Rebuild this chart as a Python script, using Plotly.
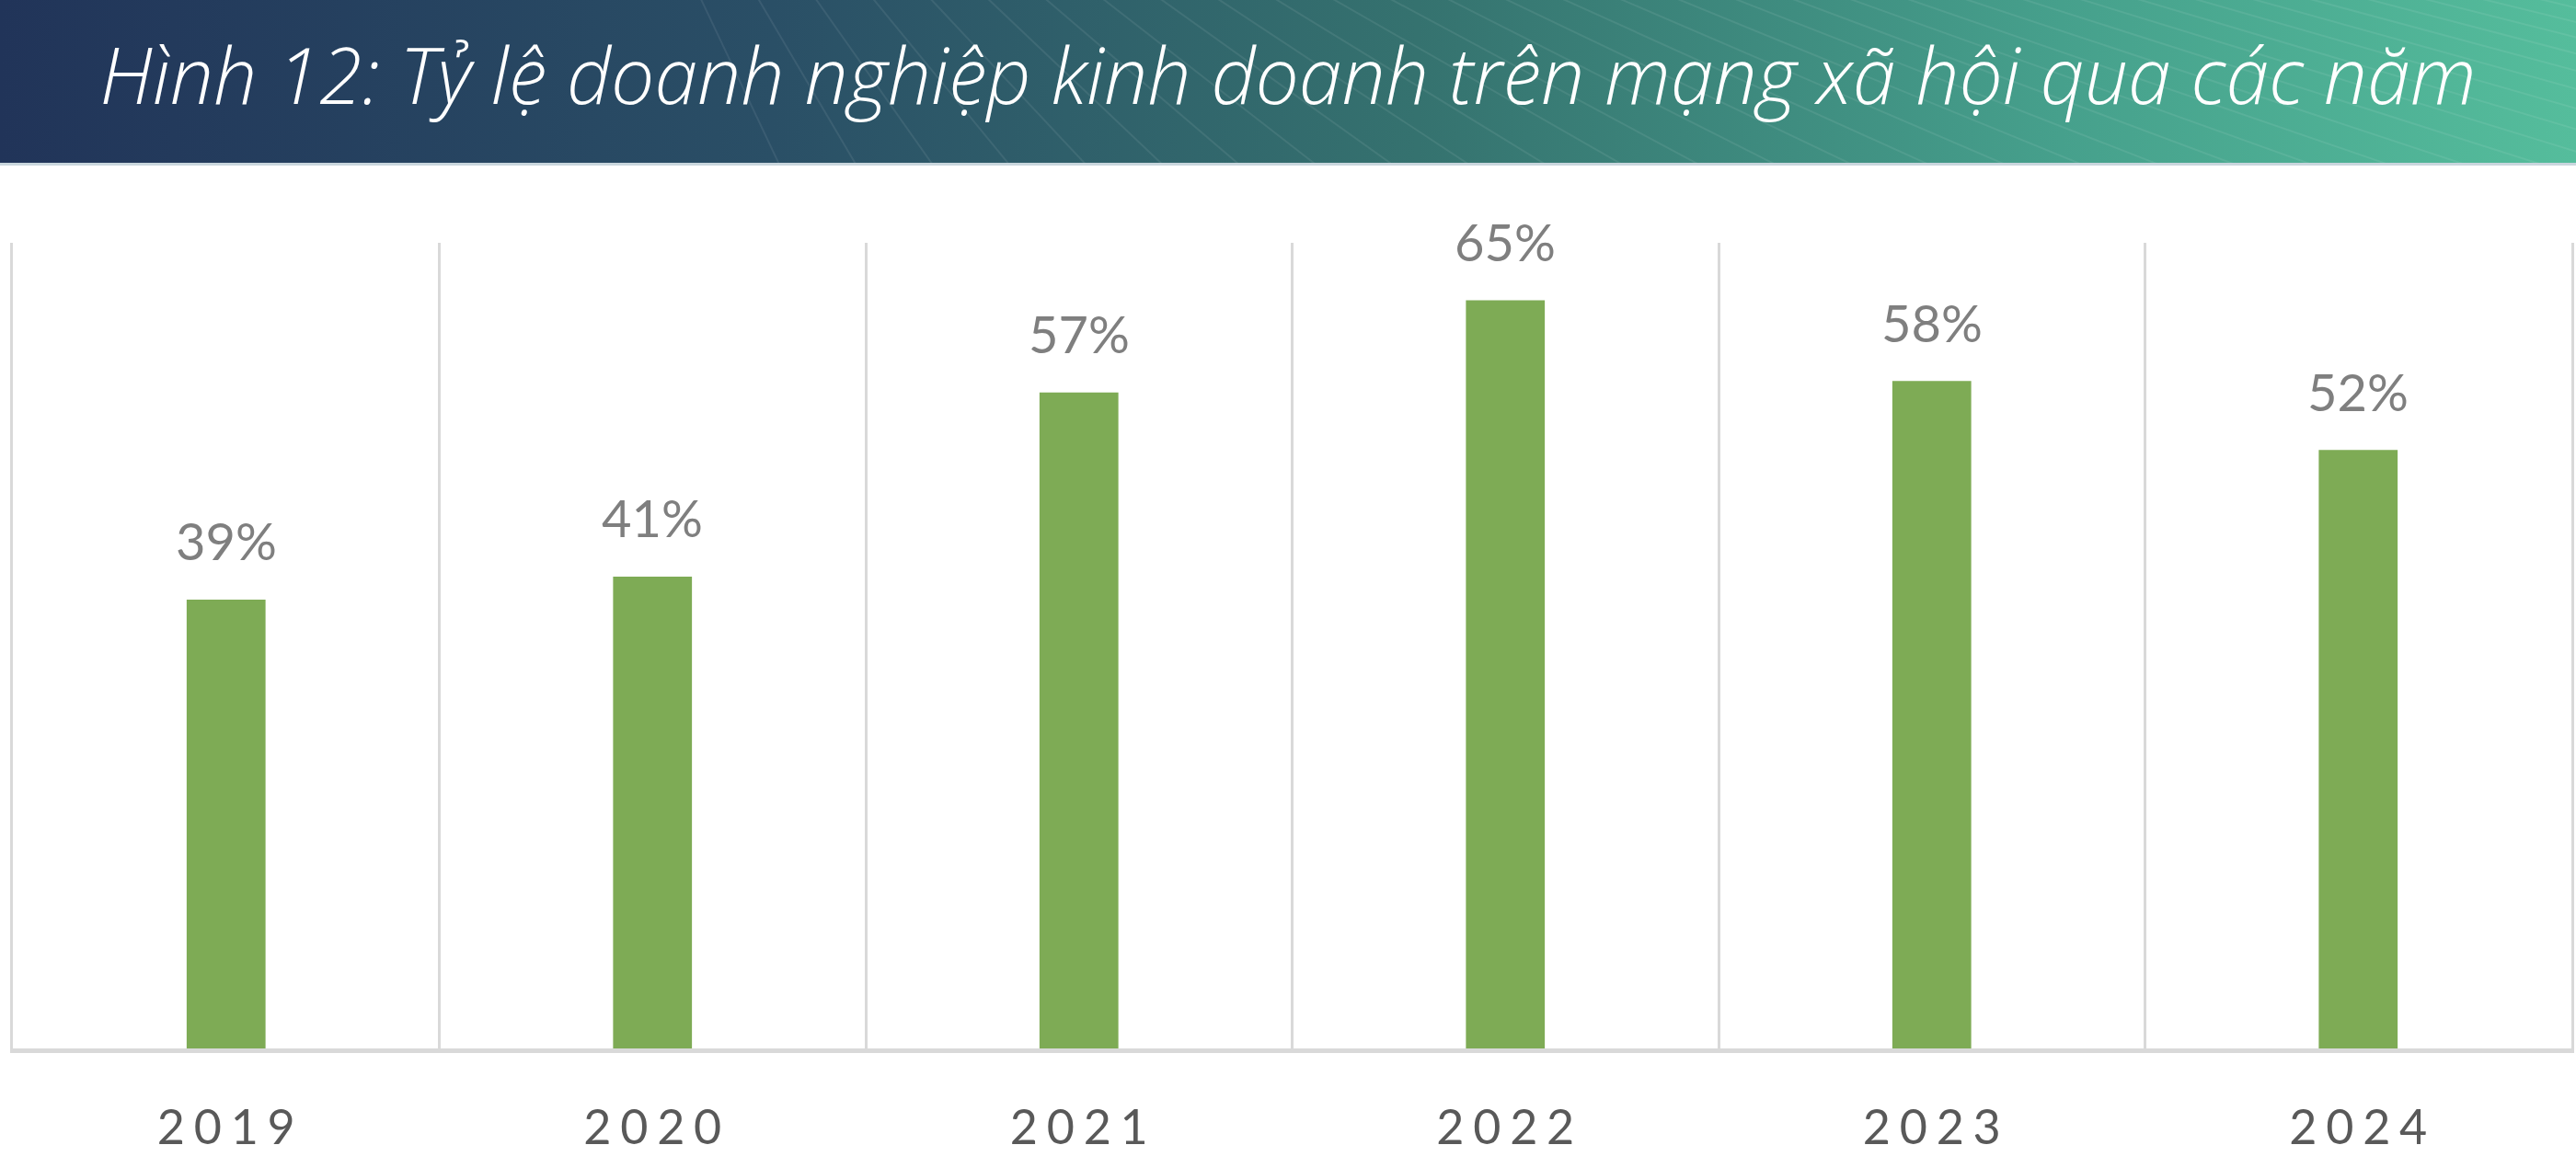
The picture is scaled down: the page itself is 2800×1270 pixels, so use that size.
import base64
import plotly.graph_objects as go

# ---- data ----
years = ["2019", "2020", "2021", "2022", "2023", "2024"]
shares = [39, 41, 57, 65, 58, 52]
share_labels = [f"{v}%" for v in shares]
year_ticktext = ["\u2009\u200a".join(y) for y in years]
title_text = "Hình 12: Tỷ lệ doanh nghiệp kinh doanh trên mạng xã hội qua các năm"

# ---- layout geometry ----
W, H = 2800, 1270
L, R, T, B = 14, 5, 264, 130
plot_w = W - L - R
plot_h = H - T - B
BAND_H = 180

# ---- header band (decorative gradient) ----
lines = []
n_lines = 34
for i in range(n_lines):
    x0 = 760 + i * 62
    dx = 90 + i * 22
    lines.append(
        f'<line x1="{x0}" y1="-5" x2="{x0 + dx}" y2="{BAND_H + 5}" '
        f'stroke="white" stroke-opacity="0.08" stroke-width="2"/>'
    )
svg = (
    f'<svg xmlns="http://www.w3.org/2000/svg" width="{W}" height="{BAND_H}" '
    f'viewBox="0 0 {W} {BAND_H}" preserveAspectRatio="none">'
    '<defs><linearGradient id="g" x1="0" y1="0" x2="1" y2="0">'
    '<stop offset="0" stop-color="#213459"/>'
    '<stop offset="0.3" stop-color="#2a4f66"/>'
    '<stop offset="0.55" stop-color="#35726f"/>'
    '<stop offset="0.8" stop-color="#46a08c"/>'
    '<stop offset="1" stop-color="#55bd9c"/>'
    '</linearGradient></defs>'
    f'<rect x="0" y="0" width="{W}" height="{BAND_H}" fill="url(#g)"/>'
    + "".join(lines)
    + f'<rect x="0" y="{BAND_H - 3}" width="{W}" height="3" fill="#c9d6dd"/>'
    '</svg>'
)
svg_uri = "data:image/svg+xml;base64," + base64.b64encode(svg.encode("utf-8")).decode()

x_idx = list(range(len(years)))

fig = go.Figure(
    go.Bar(
        x=years,
        y=shares,
        marker=dict(color="#7EAB55", line=dict(width=0)),
        hoverinfo="skip",
    )
)

for i, v, lab in zip(x_idx, shares, share_labels):
    fig.add_annotation(
        x=i, y=v, text=lab, showarrow=False,
        yanchor="middle", yshift=64,
        font=dict(family="Lato", size=56, color="#7F7F7F"),
    )

fig.add_layout_image(
    source=svg_uri, xref="paper", yref="paper",
    x=-L / plot_w, y=(plot_h + T) / plot_h,
    sizex=W / plot_w, sizey=BAND_H / plot_h,
    xanchor="left", yanchor="top", sizing="stretch", layer="above",
)

fig.update_layout(
    width=W, height=H,
    margin=dict(l=L, r=R, t=T, b=B, autoexpand=False),
    paper_bgcolor="white", plot_bgcolor="white",
    bargap=0.815, showlegend=False,
    title=dict(
        text=title_text, x=0.5, xref="container", xanchor="center",
        y=1 - 84 / H, yref="container", yanchor="middle",
        font=dict(family="Open Sans", size=84, color="white", style="italic", weight=300),
    ),
)
fig.update_xaxes(
    type="category", tickson="boundaries", range=[-0.5, len(years) - 0.5],
    showgrid=True, gridcolor="#D9D9D9", gridwidth=3,
    showline=True, linecolor="#D9D9D9", linewidth=5,
    ticks="", tickvals=years, ticktext=year_ticktext, tickangle=0,
    tickfont=dict(family="Lato", size=52, color="#595959"),
    ticklabelstandoff=37, automargin=False,
)
fig.update_yaxes(
    range=[0, 70], showgrid=False, zeroline=False, showticklabels=False,
    showline=True, mirror=True, linecolor="#D9D9D9", linewidth=3,
    automargin=False,
)

fig.write_html(
    "out.html",
    config={"displayModeBar": False},
    post_script="document.body.style.margin='0';document.body.style.padding='0';",
)
